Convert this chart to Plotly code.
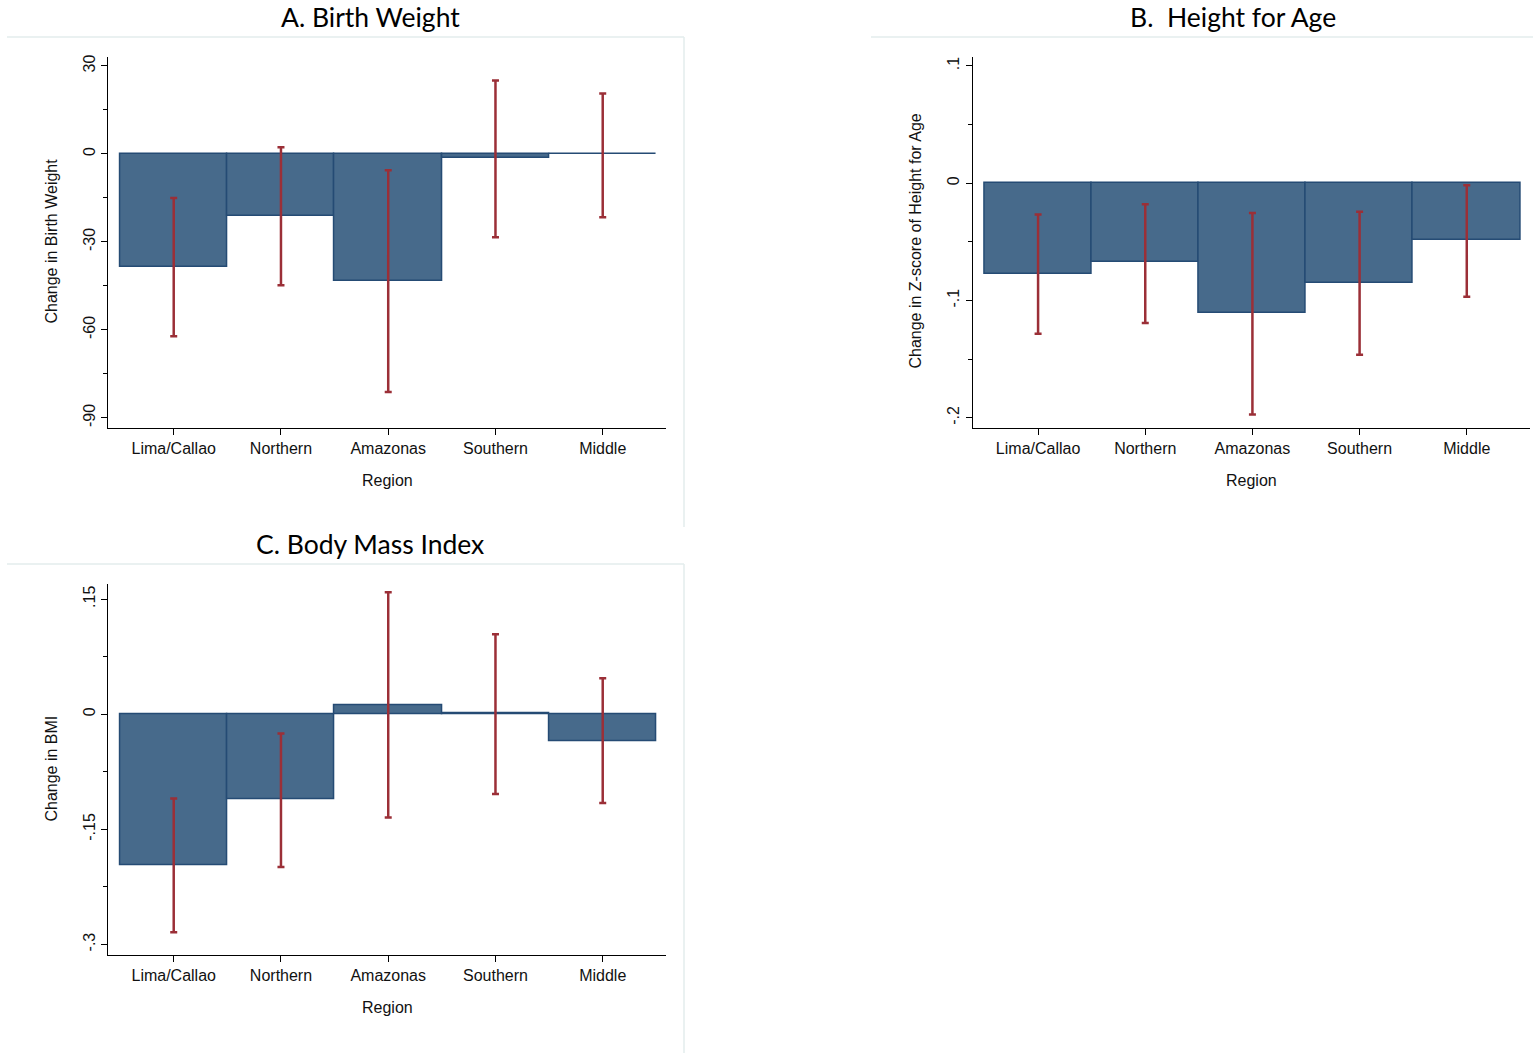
import plotly.graph_objects as go

W, H = 1533, 1053

regions = ["Lima/Callao", "Northern", "Amazonas", "Southern", "Middle"]
xpos = [1, 2, 3, 4, 5]

# Panel A: Birth Weight
bw_est = [-38.4, -21.0, -43.3, -1.5, -0.15]
bw_lo = [-62.2, -44.8, -81.2, -28.4, -21.6]
bw_hi = [-15.0, 2.3, -5.6, 25.0, 20.6]

# Panel B: Height for Age
hfa_est = [-0.0775, -0.0672, -0.1107, -0.0852, -0.0483]
hfa_lo = [-0.1283, -0.1190, -0.1970, -0.1462, -0.0968]
hfa_hi = [-0.0266, -0.0179, -0.0254, -0.0243, -0.0016]

# Panel C: Body Mass Index
bmi_est = [-0.1967, -0.1110, 0.0120, 0.0010, -0.0348]
bmi_lo = [-0.2840, -0.1990, -0.1345, -0.1040, -0.1155]
bmi_hi = [-0.1097, -0.0250, 0.1590, 0.1044, 0.0470]

titles = ["A. Birth Weight", "B.  Height for Age", "C. Body Mass Index"]
ytitles = ["Change in Birth Weight", "Change in Z-score of Height for Age", "Change in BMI"]
xtitle = "Region"

a_ticks = [30, 0, -30, -60, -90]
a_text = ["30", "0", "-30", "-60", "-90"]
a_minor = [15, -15, -45, -75]
b_ticks = [0.1, 0, -0.1, -0.2]
b_text = [".1", "0", "-.1", "-.2"]
b_minor = [0.05, -0.05, -0.15]
c_ticks = [0.15, 0, -0.15, -0.3]
c_text = [".15", "0", "-.15", "-.3"]
c_minor = [0.075, -0.075, -0.225]

BAR_FILL = "#476a8b"
BAR_LINE = "#254b74"
ERR = "#9b2f37"
FONT = "Liberation Sans, Arial, sans-serif"
TFONT = "Lato, Open Sans, sans-serif"


def px_x(p):
    return p / W


def px_y(p):
    return 1 - p / H


fig = go.Figure()

panels = [
    dict(est=bw_est, lo=bw_lo, hi=bw_hi, xa="x", ya="y",
         xdom=(108.3, 666), ydom=(55, 426.7), yr=[-93.4, 33.06],
         tv=a_ticks, tt=a_text, mv=a_minor),
    dict(est=hfa_est, lo=hfa_lo, hi=hfa_hi, xa="x2", ya="y2",
         xdom=(972.7, 1530), ydom=(55, 426.7), yr=[-0.2085, 0.1077],
         tv=b_ticks, tt=b_text, mv=b_minor),
    dict(est=bmi_est, lo=bmi_lo, hi=bmi_hi, xa="x3", ya="y3",
         xdom=(108.3, 666), ydom=(583.3, 954.5), yr=[-0.3133, 0.1695],
         tv=c_ticks, tt=c_text, mv=c_minor),
]

for i, p in enumerate(panels):
    plus = [h - e for h, e in zip(p["hi"], p["est"])]
    minus = [e - l for e, l in zip(p["est"], p["lo"])]
    fig.add_trace(go.Bar(
        x=xpos, y=p["est"], width=1.0, xaxis=p["xa"], yaxis=p["ya"],
        marker=dict(color=BAR_FILL, line=dict(color=BAR_LINE, width=1.5)),
        error_y=dict(type="data", symmetric=False, array=plus, arrayminus=minus,
                     color=ERR, thickness=2.5, width=3.5),
        showlegend=False, hoverinfo="skip",
    ))
    sfx = "" if i == 0 else str(i + 1)
    fig.layout["xaxis" + sfx] = dict(
        domain=[px_x(p["xdom"][0]), px_x(p["xdom"][1])],
        anchor="y" + sfx, range=[0.39, 5.59],
        tickmode="array", tickvals=xpos, ticktext=regions,
        ticks="outside", ticklen=6, tickwidth=1.2, tickcolor="#000",
        showline=True, linecolor="#000", linewidth=1.3,
        showgrid=False, zeroline=False,
        tickfont=dict(family=FONT, size=16, color="#111"),
    )
    fig.layout["yaxis" + sfx] = dict(
        domain=[px_y(p["ydom"][1]), px_y(p["ydom"][0])],
        anchor="x" + sfx, range=p["yr"],
        tickmode="array", tickvals=p["tv"], ticktext=p["tt"], tickangle=-90,
        ticks="outside", ticklen=6, tickwidth=1.2, tickcolor="#000",
        minor=dict(tickmode="array", tickvals=p["mv"], ticks="outside",
                   ticklen=4, tickwidth=1, tickcolor="#000", showgrid=False),
        showline=True, linecolor="#000", linewidth=1.3,
        showgrid=False, zeroline=False,
        tickfont=dict(family=FONT, size=16, color="#111"),
    )

ann = []
# panel titles
for t, (cx, cy) in zip(titles, [(370, 15), (1233, 15), (370, 543)]):
    ann.append(dict(text=t, x=px_x(cx), y=px_y(cy), xref="paper", yref="paper",
                    showarrow=False, xanchor="center", yanchor="middle",
                    font=dict(family=TFONT, size=26.5, color="#000")))
# y titles
for t, (cx, cy) in zip(ytitles, [(52, 240), (916, 240), (52, 768)]):
    ann.append(dict(text=t, x=px_x(cx), y=px_y(cy), xref="paper", yref="paper",
                    showarrow=False, xanchor="center", yanchor="middle", textangle=-90,
                    font=dict(family=FONT, size=16, color="#111")))
# x titles
for cx, cy in [(387, 479), (1251, 479), (387, 1007)]:
    ann.append(dict(text=xtitle, x=px_x(cx), y=px_y(cy), xref="paper", yref="paper",
                    showarrow=False, xanchor="center", yanchor="middle",
                    font=dict(family=FONT, size=16, color="#111")))

FRAME = "#e3eced"
shapes = []
for (x0, x1, y0, y1, right) in [(7, 684, 35, 526, True), (871, 1533, 35, 526, False),
                                (7, 684, 563, 1053, True)]:
    shapes.append(dict(type="line", xref="paper", yref="paper",
                       x0=px_x(x0), x1=px_x(x1), y0=px_y(y0), y1=px_y(y0),
                       line=dict(color=FRAME, width=1.5)))
    if right:
        shapes.append(dict(type="line", xref="paper", yref="paper",
                           x0=px_x(x1), x1=px_x(x1), y0=px_y(y0), y1=px_y(y1),
                           line=dict(color=FRAME, width=1.5)))

fig.update_layout(
    width=W, height=H, margin=dict(l=0, r=0, t=0, b=0),
    paper_bgcolor="white", plot_bgcolor="white",
    annotations=ann, shapes=shapes, bargap=0,
)

fig.write_html("out.html")
